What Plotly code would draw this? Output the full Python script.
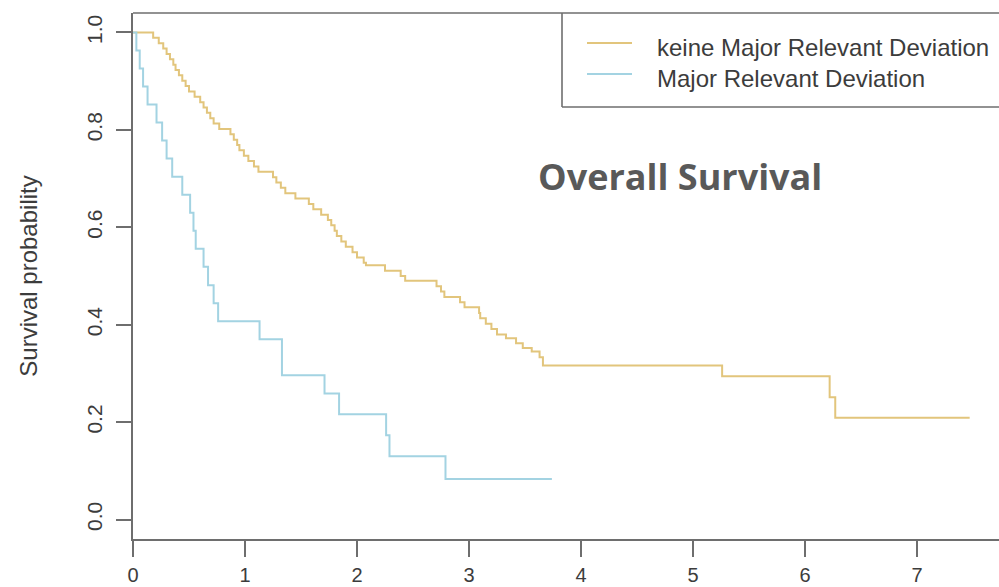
import plotly.graph_objects as go

# ---- data ----
gold_name = "keine Major Relevant Deviation"
gold_t = [0.00, 0.18, 0.23, 0.27, 0.30, 0.33, 0.36, 0.38, 0.41, 0.44, 0.47, 0.50, 0.55,
          0.60, 0.63, 0.66, 0.69, 0.72, 0.77, 0.87, 0.90, 0.93, 0.95, 0.99, 1.03, 1.08,
          1.12, 1.25, 1.28, 1.32, 1.36, 1.45, 1.57, 1.61, 1.68, 1.74, 1.77, 1.80, 1.82,
          1.86, 1.90, 1.96, 2.00, 2.06, 2.08, 2.25, 2.39, 2.43, 2.71, 2.75, 2.78, 2.92,
          2.96, 3.09, 3.10, 3.15, 3.20, 3.25, 3.33, 3.42, 3.48, 3.56, 3.63, 3.66, 5.26,
          6.22, 6.27, 7.47]
gold_s = [1.000, 0.989, 0.978, 0.967, 0.956, 0.945, 0.934, 0.923, 0.912, 0.901, 0.890,
          0.879, 0.868, 0.857, 0.846, 0.835, 0.824, 0.813, 0.802, 0.791, 0.780, 0.769,
          0.758, 0.747, 0.736, 0.725, 0.714, 0.703, 0.692, 0.681, 0.670, 0.659, 0.648,
          0.637, 0.626, 0.615, 0.604, 0.593, 0.582, 0.571, 0.560, 0.549, 0.538, 0.527,
          0.522, 0.511, 0.500, 0.490, 0.479, 0.468, 0.457, 0.446, 0.436, 0.424, 0.413,
          0.402, 0.391, 0.380, 0.372, 0.362, 0.352, 0.345, 0.333, 0.316, 0.294, 0.251,
          0.209, 0.209]

blue_name = "Major Relevant Deviation"
blue_t = [0.00, 0.03, 0.06, 0.09, 0.13, 0.21, 0.26, 0.30, 0.35, 0.44, 0.51, 0.54, 0.56,
          0.63, 0.67, 0.72, 0.76, 1.13, 1.33, 1.71, 1.84, 2.26, 2.29, 2.79, 3.74]
blue_s = [1.000, 0.963, 0.926, 0.889, 0.852, 0.815, 0.778, 0.741, 0.704, 0.667, 0.630,
          0.593, 0.556, 0.519, 0.481, 0.444, 0.407, 0.370, 0.296, 0.259, 0.216, 0.173,
          0.130, 0.083, 0.083]

x_ticks = [0, 1, 2, 3, 4, 5, 6, 7]
y_ticks = [0.0, 0.2, 0.4, 0.6, 0.8, 1.0]
y_ticklabels = ["0.0", "0.2", "0.4", "0.6", "0.8", "1.0"]

title_text = "Overall Survival"
y_title = "Survival probability"

gold_color = "#E2C57C"
blue_color = "#A3D3E2"
axis_color = "#6E6E6E"
text_color = "#3C3C3C"

fig = go.Figure()
fig.add_trace(go.Scatter(x=gold_t, y=gold_s, mode="lines", line_shape="hv",
                         line=dict(color=gold_color, width=2), name=gold_name))
fig.add_trace(go.Scatter(x=blue_t, y=blue_s, mode="lines", line_shape="hv",
                         line=dict(color=blue_color, width=2), name=blue_name))

fig.update_layout(
    width=999, height=587,
    margin=dict(l=133, r=0, t=13, b=48, autoexpand=False),
    paper_bgcolor="white", plot_bgcolor="white",
    showlegend=False,
    font=dict(family="Liberation Sans, Arial", color=text_color),
)

fig.update_xaxes(
    range=[0, 7.732], tickmode="array", tickvals=x_ticks, automargin=False,
    ticks="outside", ticklen=16, tickwidth=1.6, tickcolor=axis_color,
    showline=True, linecolor=axis_color, linewidth=1.6,
    showgrid=False, zeroline=False,
    tickfont=dict(size=20, color=text_color), ticklabelstandoff=1,
)
fig.update_yaxes(
    range=[-0.04, 1.04], tickmode="array", tickvals=y_ticks, ticktext=y_ticklabels,
    automargin=False,
    ticks="outside", ticklen=15, tickwidth=1.6, tickcolor=axis_color,
    showline=True, linecolor=axis_color, linewidth=1.6,
    showgrid=False, zeroline=False, tickangle=-90,
    tickfont=dict(size=21, color=text_color), ticklabelstandoff=6,
    title=dict(text=y_title, font=dict(size=24, color=text_color), standoff=38),
)

# top border of the plot box
fig.add_shape(type="line", xref="paper", yref="paper", x0=0, x1=1, y0=1, y1=1,
              line=dict(color=axis_color, width=1.6))

# legend box (manual; its right side runs off the picture as in the reference)
def px_x(p):
    return (p - 133) / 866.0

def px_y(p):
    return (539 - p) / 526.0

fig.add_shape(type="line", xref="paper", yref="paper",
              x0=px_x(562), x1=px_x(562), y0=px_y(107), y1=px_y(13),
              line=dict(color=axis_color, width=1.6), layer="above")
fig.add_shape(type="line", xref="paper", yref="paper",
              x0=px_x(562), x1=1.0, y0=px_y(107), y1=px_y(107),
              line=dict(color=axis_color, width=1.6), layer="above")
for yy, col, name in [(43, gold_color, gold_name), (74, blue_color, blue_name)]:
    fig.add_shape(type="line", xref="paper", yref="paper",
                  x0=px_x(587), x1=px_x(632), y0=px_y(yy), y1=px_y(yy),
                  line=dict(color=col, width=2), layer="above")
    fig.add_annotation(xref="paper", yref="paper", x=px_x(655), y=px_y(yy + 4),
                       xanchor="left", yanchor="middle", showarrow=False,
                       text=name, font=dict(size=24, color=text_color))

fig.add_annotation(xref="paper", yref="paper", x=px_x(680), y=px_y(176),
                   xanchor="center", yanchor="middle", showarrow=False,
                   text="<b>" + title_text + "</b>",
                   font=dict(family="Open Sans", size=36, color="#595959"))

fig.write_html("out.html", config={"displayModeBar": False},
               post_script="document.body.style.margin='0';document.body.style.padding='0';")
